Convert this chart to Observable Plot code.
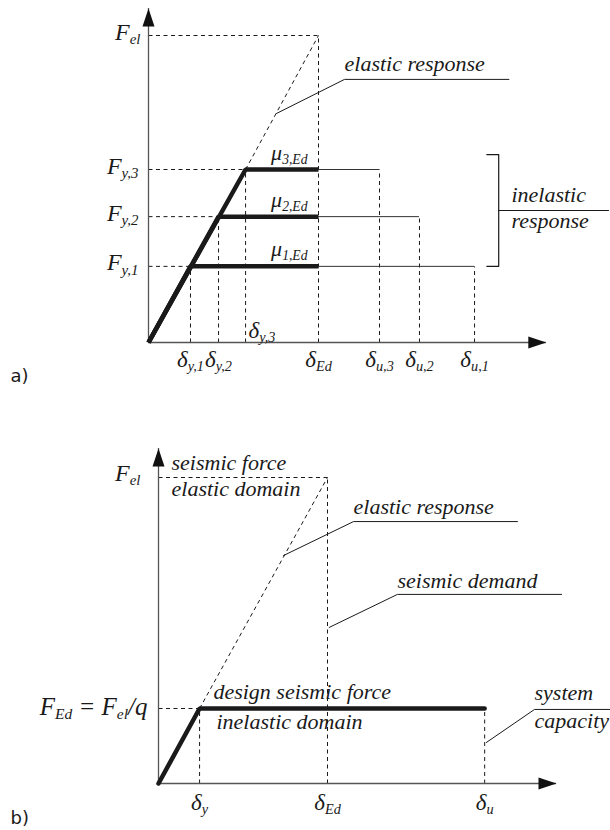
<!DOCTYPE html>
<html><head><meta charset="utf-8">
<script src="https://cdn.jsdelivr.net/npm/d3@7"></script>
<script src="https://cdn.jsdelivr.net/npm/@observablehq/plot@0.6"></script>
<style>
body{margin:0;background:#fff;}
#chart svg{display:block;}
</style></head><body><div id="chart"></div>
<script>
// ---------- data, panel a) (δEd = 1, Fel = 1) ----------
const yieldDispA  = [0.247, 0.412, 0.571];      // δy,1 δy,2 δy,3
const yieldForceA = [0.248, 0.410, 0.5635];     // Fy,1 Fy,2 Fy,3
const ultDispA    = [1.918, 1.594, 1.359];      // δu,1 δu,2 δu,3
const demandDispA = 1.0;                         // δEd
const elasticForceA = 1.0;                       // Fel
const axisEndA = [2.34, 1.088];                  // arrow tips (x, y)
const forceLabelsA = ["F_{y,1}", "F_{y,2}", "F_{y,3}"];
const ductLabelsA  = ["μ_{1,Ed}", "μ_{2,Ed}", "μ_{3,Ed}"];
const yieldLabelsA = ["δ_{y,1}", "δ_{y,2}", "δ_{y,3}"];
const ultLabelsA   = ["δ_{u,1}", "δ_{u,2}", "δ_{u,3}"];
// callouts (data units)
const elasticLeaderA = [[0.753, 0.746], [1.153, 0.857], [2.12, 0.857]];
const bracketA = [[1.99, 0.612], [2.06, 0.612], [2.06, 0.248], [1.99, 0.248]];
const inelasticLineA = [[2.06, 0.43], [2.706, 0.43]];

// ---------- data, panel b) ----------
const yieldDispB = 0.243;     // δy
const designForceB = 0.245;   // FEd = Fel/q
const ultDispB = 1.93;        // δu
const demandDispB = 1.0;      // δEd
const elasticForceB = 1.0;    // Fel
const axisEndB = [2.355, 1.095];
const elasticLeaderB = [[0.74, 0.745], [1.154, 0.856], [2.124, 0.856]];
const demandLeaderB  = [[1.01, 0.51], [1.414, 0.618], [2.385, 0.618]];
const capacityLeaderB = [[1.94, 0.134], [2.225, 0.242], [2.67, 0.242]];

// ---------- styles ----------
const ink = "#1a1a1a";
const dash = "4,3.5";
const serifIt = {fontFamily: "'Liberation Serif', 'Times New Roman', serif", fontStyle: "italic", fill: ink};
const arrowHead = {draw(ctx) { ctx.moveTo(0, 0); ctx.lineTo(6, 18); ctx.lineTo(-6, 18); ctx.closePath(); }};
const pts = (arr, id) => arr.map(([x, y]) => ({x, y, id}));

function axes(end) {
  return [
    Plot.ruleY([0], {x1: 0, x2: end[0], stroke: "#555", strokeWidth: 1.3}),
    Plot.ruleX([0], {y1: 0, y2: end[1], stroke: "#555", strokeWidth: 1.3}),
    Plot.dot([{x: 0, y: end[1]}], {x: "x", y: "y", symbol: arrowHead, fill: "#111", stroke: "none"}),
    Plot.dot([{x: end[0], y: 0}], {x: "x", y: "y", symbol: arrowHead, rotate: 90, fill: "#111", stroke: "none"})
  ];
}

// ---------- panel a ----------
const nA = yieldDispA.length;
const idxA = d3.range(nA);
const thickA = idxA.flatMap(i => [
  {id: i, x: 0, y: 0}, {id: i, x: yieldDispA[i], y: yieldForceA[i]}, {id: i, x: demandDispA, y: yieldForceA[i]}
]);
const extA = idxA.map(i => ({x1: demandDispA, x2: ultDispA[i], y: yieldForceA[i]}));
const dashA = [
  ...idxA.map(i => ({x1: 0, y1: yieldForceA[i], x2: yieldDispA[i], y2: yieldForceA[i]})),
  ...idxA.map(i => ({x1: yieldDispA[i], y1: 0, x2: yieldDispA[i], y2: yieldForceA[i]})),
  ...idxA.map(i => ({x1: ultDispA[i], y1: 0, x2: ultDispA[i], y2: yieldForceA[i]})),
  {x1: 0, y1: elasticForceA, x2: demandDispA, y2: elasticForceA},
  {x1: demandDispA, y1: 0, x2: demandDispA, y2: elasticForceA},
  {x1: yieldDispA[nA - 1], y1: yieldForceA[nA - 1], x2: demandDispA, y2: elasticForceA}
];

const plotA = Plot.plot({
  width: 610, height: 415, margin: 0,
  style: {background: "white", overflow: "visible"},
  x: {domain: [0, 1], range: [148, 318], axis: null},
  y: {domain: [0, 1], range: [342, 35], axis: null},
  marks: [
    Plot.link(dashA, {x1: "x1", y1: "y1", x2: "x2", y2: "y2", stroke: ink, strokeWidth: 1, strokeDasharray: dash}),
    ...axes(axisEndA),
    Plot.ruleY(extA, {x1: "x1", x2: "x2", y: "y", stroke: "#333", strokeWidth: 1}),
    Plot.line(thickA, {x: "x", y: "y", z: "id", stroke: ink, strokeWidth: 4.5, strokeLinejoin: "miter", strokeLinecap: "butt"}),
    Plot.line(pts(elasticLeaderA, 0), {x: "x", y: "y", stroke: ink, strokeWidth: 1}),
    Plot.line(pts(bracketA, 0), {x: "x", y: "y", stroke: ink, strokeWidth: 1.2}),
    Plot.line(pts(inelasticLineA, 0), {x: "x", y: "y", stroke: ink, strokeWidth: 1.2}),
    // force labels
    Plot.text(idxA, {x: 0, y: i => yieldForceA[i], text: i => forceLabelsA[i], textAnchor: "end", lineAnchor: "bottom", dx: -10, dy: 4, fontSize: 24, ...serifIt}),
    Plot.text(["F_{el}"], {x: 0, y: elasticForceA, textAnchor: "end", lineAnchor: "bottom", dx: -8, dy: 4, fontSize: 24, ...serifIt}),
    // ductility labels
    Plot.text(idxA, {x: demandDispA, y: i => yieldForceA[i], text: i => ductLabelsA[i], textAnchor: "end", lineAnchor: "bottom", dx: -11, dy: -10, fontSize: 22, ...serifIt}),
    // displacement labels
    Plot.text(idxA.slice(0, nA - 1), {x: i => yieldDispA[i], y: 0, text: i => yieldLabelsA[i], textAnchor: "middle", lineAnchor: "bottom", dy: 24, fontSize: 23, ...serifIt}),
    Plot.text([nA - 1], {x: i => yieldDispA[i], y: 0, text: i => yieldLabelsA[i], textAnchor: "start", lineAnchor: "bottom", dx: 3, dy: -5, fontSize: 23, ...serifIt}),
    Plot.text(["δ_{Ed}"], {x: demandDispA, y: 0, textAnchor: "middle", lineAnchor: "bottom", dy: 24, fontSize: 23, ...serifIt}),
    Plot.text(idxA, {x: i => ultDispA[i], y: 0, text: i => ultLabelsA[i], textAnchor: "middle", lineAnchor: "bottom", dy: 24, fontSize: 23, ...serifIt}),
    // callout texts
    Plot.text(["elastic response"], {x: elasticLeaderA[1][0], y: elasticLeaderA[1][1], textAnchor: "start", lineAnchor: "bottom", dy: -8, fontSize: 22, ...serifIt}),
    Plot.text(["inelastic"], {x: 2.135, y: inelasticLineA[0][1], textAnchor: "start", lineAnchor: "bottom", dy: -8, fontSize: 22, ...serifIt}),
    Plot.text(["response"], {x: 2.135, y: inelasticLineA[0][1], textAnchor: "start", lineAnchor: "bottom", dy: 18, fontSize: 22, ...serifIt}),
    Plot.text(["a)"], {frameAnchor: "bottom-left", textAnchor: "start", lineAnchor: "bottom", dx: 10, dy: -34, fontSize: 18, fontFamily: "'DejaVu Sans', sans-serif", fill: ink})
  ]
});

// ---------- panel b ----------
const thickB = [{x: 0, y: 0}, {x: yieldDispB, y: designForceB}, {x: ultDispB, y: designForceB}];
const dashB = [
  {x1: 0, y1: designForceB, x2: yieldDispB, y2: designForceB},
  {x1: yieldDispB, y1: 0, x2: yieldDispB, y2: designForceB},
  {x1: ultDispB, y1: 0, x2: ultDispB, y2: designForceB},
  {x1: 0, y1: elasticForceB, x2: demandDispB, y2: elasticForceB},
  {x1: demandDispB, y1: 0, x2: demandDispB, y2: elasticForceB},
  {x1: yieldDispB, y1: designForceB, x2: demandDispB, y2: elasticForceB}
];

const plotB = Plot.plot({
  width: 610, height: 415, margin: 0,
  style: {background: "white", overflow: "visible"},
  x: {domain: [0, 1], range: [158, 327], axis: null},
  y: {domain: [0, 1], range: [368, 62], axis: null},
  marks: [
    Plot.link(dashB, {x1: "x1", y1: "y1", x2: "x2", y2: "y2", stroke: ink, strokeWidth: 1, strokeDasharray: dash}),
    ...axes(axisEndB),
    Plot.line(thickB, {x: "x", y: "y", stroke: ink, strokeWidth: 4.5, strokeLinejoin: "miter"}),
    Plot.line(pts(elasticLeaderB, 0), {x: "x", y: "y", stroke: ink, strokeWidth: 1}),
    Plot.line(pts(demandLeaderB, 0), {x: "x", y: "y", stroke: ink, strokeWidth: 1}),
    Plot.line(pts(capacityLeaderB, 0), {x: "x", y: "y", stroke: ink, strokeWidth: 1}),
    Plot.text(["F_{el}"], {x: 0, y: elasticForceB, textAnchor: "end", lineAnchor: "bottom", dx: -18, dy: 3, fontSize: 24, ...serifIt}),
    Plot.text(["F_{Ed} = F_{el}/q"], {x: 0, y: designForceB, textAnchor: "end", lineAnchor: "bottom", dx: -11, dy: 6, fontSize: 25, ...serifIt}),
    Plot.text(["δ_{y}"], {x: yieldDispB, y: 0, textAnchor: "middle", lineAnchor: "bottom", dy: 26, fontSize: 23, ...serifIt}),
    Plot.text(["δ_{Ed}"], {x: demandDispB, y: 0, textAnchor: "middle", lineAnchor: "bottom", dy: 26, fontSize: 23, ...serifIt}),
    Plot.text(["δ_{u}"], {x: ultDispB, y: 0, textAnchor: "middle", lineAnchor: "bottom", dy: 26, fontSize: 23, ...serifIt}),
    Plot.text(["seismic force"], {x: 0.077, y: elasticForceB, textAnchor: "start", lineAnchor: "bottom", dy: -8, fontSize: 22, ...serifIt}),
    Plot.text(["elastic domain"], {x: 0.077, y: elasticForceB, textAnchor: "start", lineAnchor: "bottom", dy: 18, fontSize: 22, ...serifIt}),
    Plot.text(["elastic response"], {x: elasticLeaderB[1][0], y: elasticLeaderB[1][1], textAnchor: "start", lineAnchor: "bottom", dy: -8, fontSize: 22, ...serifIt}),
    Plot.text(["seismic demand"], {x: demandLeaderB[1][0], y: demandLeaderB[1][1], textAnchor: "start", lineAnchor: "bottom", dy: -6, fontSize: 22, ...serifIt}),
    Plot.text(["design seismic force"], {x: 0.325, y: designForceB, textAnchor: "start", lineAnchor: "bottom", dy: -10, fontSize: 22, ...serifIt}),
    Plot.text(["inelastic domain"], {x: 0.343, y: designForceB, textAnchor: "start", lineAnchor: "bottom", dy: 20, fontSize: 22, ...serifIt}),
    Plot.text(["system"], {x: capacityLeaderB[1][0], y: capacityLeaderB[1][1], textAnchor: "start", lineAnchor: "bottom", dy: -9, fontSize: 22, ...serifIt}),
    Plot.text(["capacity"], {x: capacityLeaderB[1][0], y: capacityLeaderB[1][1], textAnchor: "start", lineAnchor: "bottom", dy: 19, fontSize: 22, ...serifIt}),
    Plot.text(["b)"], {frameAnchor: "bottom-left", textAnchor: "start", lineAnchor: "bottom", dx: 10, dy: -7, fontSize: 18, fontFamily: "'DejaVu Sans', sans-serif", fill: ink})
  ]
});

// ---------- subscripts: turn "X_{sub}" into tspans ----------
function applySubscripts(svg) {
  const NS = "http://www.w3.org/2000/svg";
  const ratio = 0.62, drop = 0.3;
  for (const t of svg.querySelectorAll("text")) {
    const s = t.textContent;
    if (!s.includes("_{")) continue;
    t.textContent = "";
    const re = /_\{([^}]*)\}/g;
    let last = 0, m, lowered = false;
    const add = (str, sub) => {
      const ts = document.createElementNS(NS, "tspan");
      ts.textContent = str;
      if (sub) { ts.setAttribute("font-size", ratio + "em"); ts.setAttribute("dy", drop + "em"); }
      else if (lowered) ts.setAttribute("dy", (-ratio * drop) + "em");
      t.appendChild(ts);
      lowered = sub;
    };
    while ((m = re.exec(s))) {
      if (m.index > last) add(s.slice(last, m.index), false);
      add(m[1], true);
      last = re.lastIndex;
    }
    if (last < s.length) add(s.slice(last), false);
  }
}
applySubscripts(plotA);
applySubscripts(plotB);

const root = document.getElementById("chart");
root.append(plotA, plotB);
</script>
</body></html>
